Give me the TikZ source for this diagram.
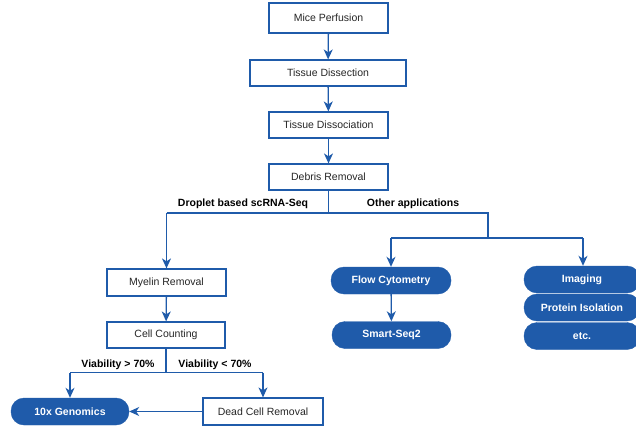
\documentclass[tikz,border=0pt]{standalone}
\usepackage{fontspec}
\setmainfont{Liberation Sans}
\usetikzlibrary{arrows.meta}
\definecolor{mblue}{HTML}{1F5BAA}
\tikzset{
  box/.style={draw=mblue, line width=1.2pt, fill=white, inner sep=0pt, font=\fontsize{10.5}{12}\selectfont, text=black!85},
  pill/.style={fill=mblue, draw=mblue, rounded corners=13pt, inner sep=0pt, text=white, font=\fontsize{10.5}{12}\selectfont\bfseries},
  conn/.style={draw=mblue, line width=1.3pt},
  arr/.style={conn, -{Stealth[length=10pt,width=9pt,inset=3pt]}},
  lbl/.style={font=\fontsize{10.5}{12}\selectfont\bfseries, text=black}
}
\begin{document}
\begin{tikzpicture}[x=1pt,y=-1pt]
\useasboundingbox (0,0) rectangle (636,425);
\clip (0,0) rectangle (636,425);
% top chain
\node[box, minimum width=119pt, minimum height=30pt] (mp) at (328.5,18) {Mice Perfusion};
\node[box, minimum width=156pt, minimum height=26pt] (td) at (328,73) {Tissue Dissection};
\node[box, minimum width=119pt, minimum height=26pt] (tdi) at (328.5,125) {Tissue Dissociation};
\node[box, minimum width=119pt, minimum height=26pt] (dr) at (328.5,177) {Debris Removal};
% left branch
\node[box, minimum width=119pt, minimum height=27pt] (my) at (166.5,282.5) {Myelin Removal};
\node[box, minimum width=118pt, minimum height=26pt] (cc) at (166,335) {Cell Counting};
\node[pill, minimum width=118pt, minimum height=27pt] (tenx) at (70,411.5) {10x Genomics};
\node[box, minimum width=120pt, minimum height=27pt] (dcr) at (263,411.5) {Dead Cell Removal};
% right branch
\node[pill, minimum width=120pt, minimum height=27pt] (fc) at (391,280.5) {Flow Cytometry};
\node[pill, minimum width=119pt, minimum height=27pt] (ss) at (391.5,335) {Smart-Seq2};
\node[pill, minimum width=116pt, minimum height=27pt] (img) at (582,279.5) {Imaging};
\node[pill, minimum width=116pt, minimum height=27pt] (pi) at (582,307.5) {Protein Isolation};
\node[pill, minimum width=116pt, minimum height=27pt] (etc) at (582,336) {etc.};
% coordinates
\coordinate (j1) at (328.5,213);
\coordinate (jl) at (166.5,213);
\coordinate (jr) at (488,213);
\coordinate (jr2) at (488,238);
\coordinate (jfc) at (391,238);
\coordinate (jimg) at (583,238);
\coordinate (j2) at (166,372.5);
\coordinate (jv1) at (70,372.5);
\coordinate (jv2) at (263,372.5);
% labels
\node[lbl] (l1) at (243,204) {Droplet based scRNA-Seq};
\node[lbl] (l2) at (413,204) {Other applications};
\node[lbl] (l3) at (118,365) {Viability > 70\%};
\node[lbl] (l4) at (215,365) {Viability < 70\%};
% connectors
\draw[arr] (mp) -- (td);
\draw[arr] (td) -- (tdi);
\draw[arr] (tdi) -- (dr);
\draw[conn] (dr.south) -- (j1);
\draw[conn] (jl) -- (jr) -- (jr2);
\draw[arr] (jl) -- (my.north);
\draw[conn] (jfc) -- (jimg);
\draw[arr] (jfc) -- (fc.north);
\draw[arr] (jimg) -- (jimg |- img.north);
\draw[arr] (my) -- (cc);
\draw[arr] (fc) -- (ss);
\draw[conn] (cc.south) -- (j2);
\draw[conn] (jv1) -- (jv2);
\draw[arr] (jv1) -- (tenx.north);
\draw[arr] (jv2) -- (dcr.north);
\draw[arr] (dcr.west) -- (tenx.east);
\end{tikzpicture}
\end{document}
